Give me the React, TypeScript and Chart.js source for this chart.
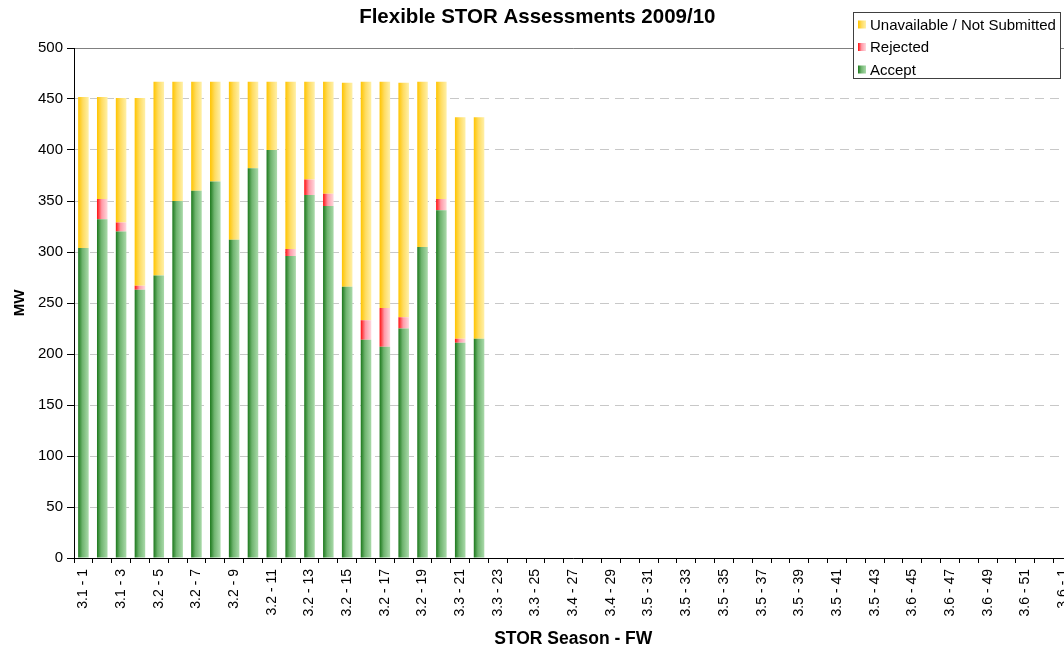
import { useEffect, useRef } from 'react';
import { Chart, registerables } from 'chart.js';

Chart.register(...registerables);

const categories = [
  '3.1 - 1', '3.1 - 2', '3.1 - 3', '3.1 - 4', '3.2 - 5', '3.2 - 6', '3.2 - 7', '3.2 - 8',
  '3.2 - 9', '3.2 - 10', '3.2 - 11', '3.2 - 12', '3.2 - 13', '3.2 - 14', '3.2 - 15', '3.2 - 16',
  '3.2 - 17', '3.2 - 18', '3.2 - 19', '3.2 - 20', '3.3 - 21', '3.3 - 22', '3.3 - 23', '3.3 - 24',
  '3.3 - 25', '3.3 - 26', '3.4 - 27', '3.4 - 28', '3.4 - 29', '3.4 - 30', '3.5 - 31', '3.5 - 32',
  '3.5 - 33', '3.5 - 34', '3.5 - 35', '3.5 - 36', '3.5 - 37', '3.5 - 38', '3.5 - 39', '3.5 - 40',
  '3.5 - 41', '3.5 - 42', '3.5 - 43', '3.5 - 44', '3.6 - 45', '3.6 - 46', '3.6 - 47', '3.6 - 48',
  '3.6 - 49', '3.6 - 50', '3.6 - 51', '3.6 - 52', '3.6 - 1',
];

const accept = [304, 332, 320, 263, 277, 350, 360, 369, 312, 382, 400, 296, 356, 345, 266, 214, 207, 225, 305, 341, 211, 215];
const rejected = [0, 20, 9, 4, 0, 0, 0, 0, 0, 0, 0, 7, 15, 12, 0, 19, 38, 11, 0, 11, 4, 0];
const unavailable = [148, 100, 122, 184, 190, 117, 107, 98, 155, 85, 67, 164, 96, 110, 200, 234, 222, 230, 162, 115, 217, 217];

const yTicks = [0, 50, 100, 150, 200, 250, 300, 350, 400, 450, 500];

const BAR_PCT = 0.56;
const FONT = 'Arial, "Liberation Sans", Helvetica, sans-serif';

const GREEN: [number, string][] = [[0, '#1c781c'], [0.4, '#6fb46f'], [1, '#aadaaa']];
const RED: [number, string][] = [[0, '#ff1010'], [0.45, '#ff9aa8'], [1, '#ffd8de']];
const YELLOW: [number, string][] = [[0, '#ffc400'], [0.45, '#ffdc60'], [1, '#fff0a8']];

function makeGrad(stops: [number, string][]) {
  return (c: any) => {
    const chart = c.chart;
    const xs = chart.scales && chart.scales.x;
    if (!xs || !chart.chartArea || typeof c.dataIndex !== 'number') return stops[1][1];
    const cx = xs.getPixelForValue(c.dataIndex);
    const w = (xs.width / categories.length) * BAR_PCT;
    if (!isFinite(cx) || !isFinite(w)) return stops[1][1];
    const g = chart.ctx.createLinearGradient(cx - w / 2, 0, cx + w / 2, 0);
    stops.forEach(([o, col]) => g.addColorStop(o, col));
    return g;
  };
}

const boxLegend = {
  id: 'boxLegend',
  afterDraw(chart: any) {
    const ctx = chart.ctx;
    const x = 853.5, y = 12.5, w = 207, h = 66;
    ctx.save();
    ctx.fillStyle = '#ffffff';
    ctx.fillRect(x, y, w, h);
    ctx.strokeStyle = '#404040';
    ctx.lineWidth = 1;
    ctx.strokeRect(x, y, w, h);
    const items = [...chart.data.datasets].reverse();
    const rows = [24.5, 47, 69.5];
    items.forEach((ds: any, i: number) => {
      const cy = rows[i];
      const g = ctx.createLinearGradient(858, 0, 866, 0);
      ds._stops.forEach(([o, col]: [number, string]) => g.addColorStop(o, col));
      ctx.fillStyle = g;
      ctx.fillRect(858, cy - 4, 8, 8);
      ctx.fillStyle = '#000';
      ctx.font = `15px ${FONT}`;
      ctx.textBaseline = 'middle';
      ctx.textAlign = 'left';
      ctx.fillText(ds.label, 870, cy + 1);
    });
    ctx.restore();
  },
};

export default function App() {
  const ref = useRef<HTMLCanvasElement | null>(null);

  useEffect(() => {
    document.documentElement.style.overflow = 'hidden';
    document.body.style.overflow = 'hidden';
    if (!ref.current) return;
    Chart.defaults.font.family = FONT;
    Chart.defaults.color = '#000';
    const chart = new Chart(ref.current, {
      type: 'bar',
      data: {
        labels: categories,
        datasets: [
          { label: 'Accept', data: accept, backgroundColor: makeGrad(GREEN), borderWidth: 0, _stops: GREEN } as any,
          { label: 'Rejected', data: rejected, backgroundColor: makeGrad(RED), borderWidth: 0, _stops: RED } as any,
          { label: 'Unavailable / Not Submitted', data: unavailable, backgroundColor: makeGrad(YELLOW), borderWidth: 0, _stops: YELLOW } as any,
        ],
      },
      options: {
        responsive: false,
        animation: false,
        layout: { padding: { left: 0, right: 11.4, top: 0, bottom: 0 } },
        datasets: { bar: { categoryPercentage: 1, barPercentage: BAR_PCT } },
        plugins: {
          legend: { display: false },
          tooltip: { enabled: false },
          title: {
            display: true,
            text: 'Flexible STOR Assessments 2009/10',
            color: '#000',
            font: { size: 20.5, weight: 'bold', family: FONT },
            padding: { top: 5.2, bottom: 18.2 },
          },
        },
        scales: {
          x: {
            stacked: true,
            position: 'bottom',
            afterFit: (s: any) => { s.height = 92; },
            grid: { display: true, drawOnChartArea: false, offset: true, tickLength: 5, tickColor: '#000', color: '#000' },
            border: { display: true, color: '#000', width: 1 },
            ticks: {
              autoSkip: false,
              maxRotation: 90,
              minRotation: 90,
              padding: 6,
              color: '#000',
              font: { size: 14, family: FONT },
              callback: (_v: any, i: number) => (i % 2 === 0 ? categories[i] : ''),
            },
            title: {
              display: true,
              text: 'STOR Season - FW',
              color: '#000',
              font: { size: 17.5, weight: 'bold', family: FONT },
              padding: { top: 0, bottom: 0 },
            },
          },
          x2: {
            type: 'category',
            position: 'top',
            offset: true,
            afterFit: (s: any) => { s.height = 0; },
            grid: { display: false, drawTicks: false },
            border: { display: true, color: '#808080', width: 1 },
            ticks: { display: false },
          },
          y: {
            stacked: true,
            min: 0,
            max: 500,
            afterFit: (s: any) => { s.width = 74; },
            afterBuildTicks: (s: any) => { s.ticks = yTicks.map((v) => ({ value: v })); },
            grid: { color: '#c8c8c8', lineWidth: 1, tickLength: 7, tickColor: '#000' },
            border: { display: true, color: '#000', width: 1, dash: [9, 6] },
            ticks: { padding: 4, color: '#000', font: { size: 15, family: FONT } },
            title: {
              display: true,
              text: 'MW',
              color: '#000',
              font: { size: 15, weight: 'bold', family: FONT },
              padding: { top: 11, bottom: 0 },
            },
          },
        },
      } as any,
      plugins: [boxLegend],
    });
    return () => chart.destroy();
  }, []);

  return (
    <div style={{ position: 'fixed', left: 0, top: 0, width: 1086, height: 650, background: '#fff' }}>
      <canvas ref={ref} width={1086} height={650} />
    </div>
  );
}
